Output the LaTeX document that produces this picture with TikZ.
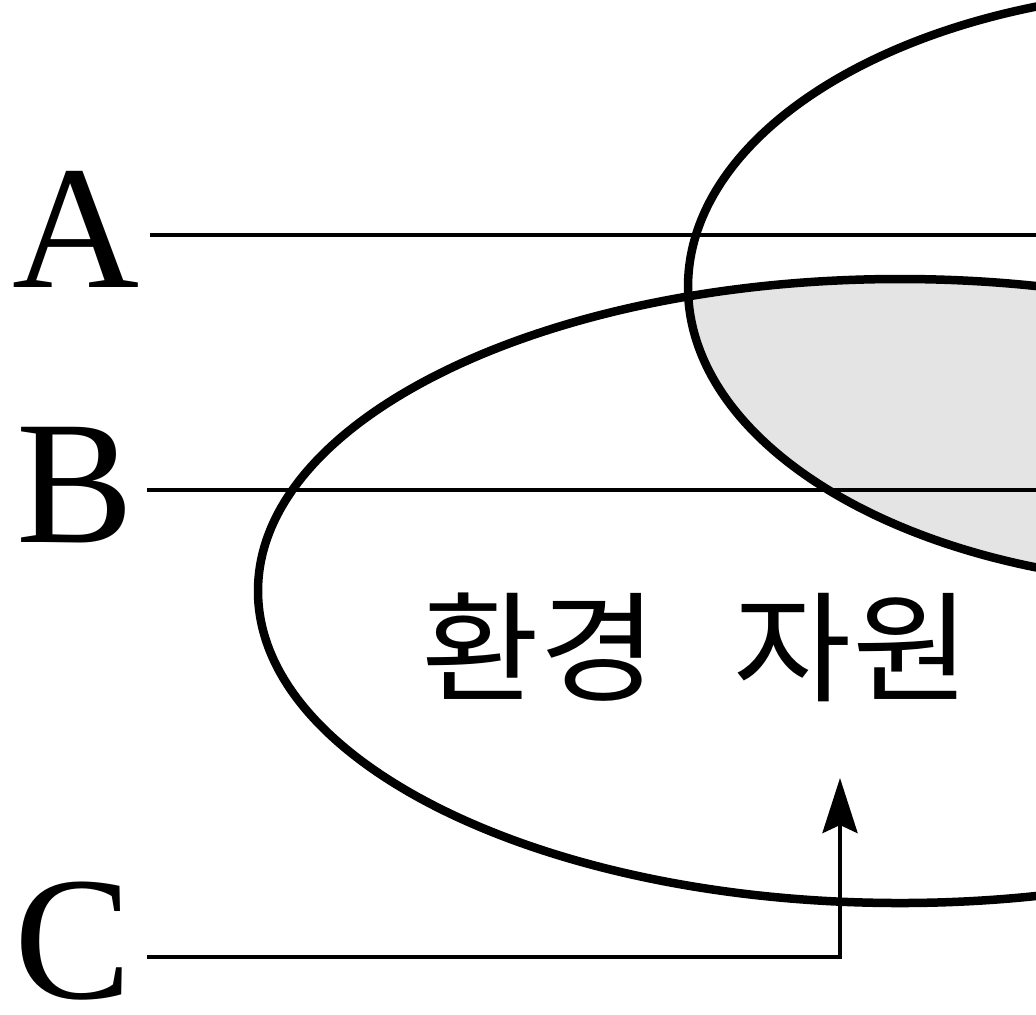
\documentclass[tikz,border=0pt]{standalone}
\usepackage{fontspec}
\setmainfont{Liberation Serif}
\newfontfamily\krfont{Noto Sans CJK KR}[FakeStretch=1.07]
\usetikzlibrary{arrows.meta}
\definecolor{shadegray}{RGB}{228,228,228}
\begin{document}
\begin{tikzpicture}[x=0.5pt,y=-0.5pt,
  ring/.style={line width=4.25pt},
  rule/.style={line width=2.25pt},
  letter/.style={font=\fontsize{88}{88}\selectfont, inner sep=0pt, anchor=base, text depth=0pt},
  kortext/.style={font=\krfont\fontsize{60}{60}\selectfont, inner sep=0pt, anchor=center}]
\useasboundingbox (0,0) rectangle (1036,1014);
\clip (0,0) rectangle (1036,1014);
% shaded intersection
\begin{scope}
  \clip (1208,287) ellipse [x radius=260pt, y radius=148.5pt];
  \fill[shadegray] (900,591) ellipse [x radius=321pt, y radius=156pt];
\end{scope}
% ellipses
\draw[ring] (1208,287) ellipse [x radius=260pt, y radius=148.5pt];
\draw[ring] (900,591) ellipse [x radius=321pt, y radius=156pt];
% letters
\node[letter] (A) at (76,287) {A};
\node[letter] (B) at (75,542) {B};
\node[letter] (C) at (73,998) {C};
% text
\node[kortext] (env) at (696,647) {환경\hspace{38pt}자원};
% lines
\coordinate (Astart) at (150,235);
\coordinate (Aend) at (1045,235);
\coordinate (Bstart) at (147,490);
\coordinate (Bend) at (1045,490);
\coordinate (Cstart) at (147,957);
\coordinate (Ccorner) at (840,957);
\coordinate (Ctip) at (840,778);
\draw[rule] (Astart) -- (Aend);
\draw[rule] (Bstart) -- (Bend);
\draw[rule, -{Stealth[length=27.5pt, width=17.5pt, inset=4pt]}] (Cstart) -- (Ccorner) -- (Ctip);
\end{tikzpicture}
\end{document}
